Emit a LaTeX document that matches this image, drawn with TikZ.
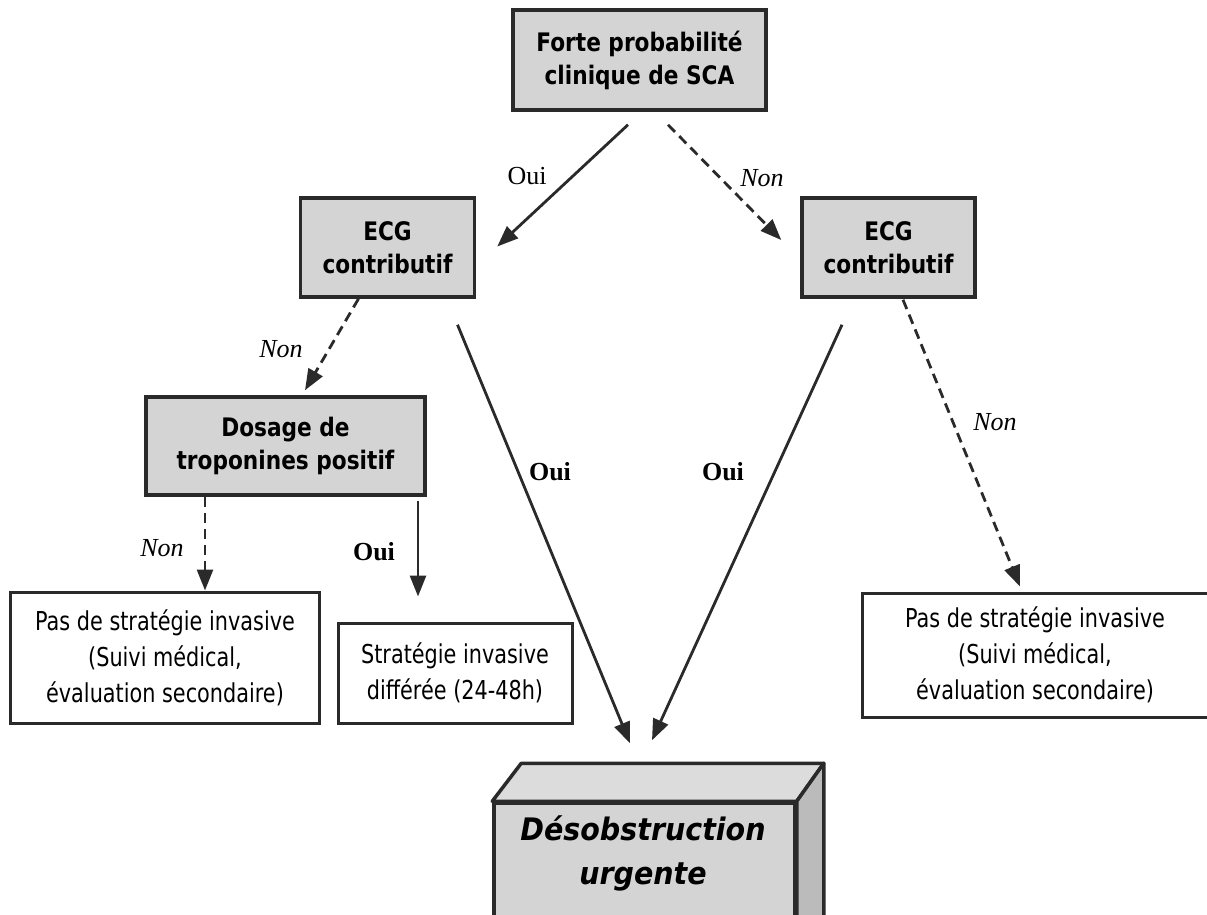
\documentclass[tikz,border=0pt]{standalone}
\usepackage{fontspec}
\usetikzlibrary{arrows.meta,calc}

% Box lettering: a narrow sans, bold in the grey boxes
\newfontfamily\boxfont[FakeStretch=0.85]{DejaVu Sans}
\newfontfamily\notefont[FakeStretch=0.8]{DejaVu Sans}
\newfontfamily\bigfont[FakeStretch=0.92]{DejaVu Sans}
\newfontfamily\labelfont{Liberation Serif}

\definecolor{boxgray}{HTML}{D4D4D4}
\definecolor{topgray}{HTML}{DCDCDC}
\definecolor{sidegray}{HTML}{BBBBBB}
\definecolor{edge}{HTML}{2A2A2A}

\tikzset{
  greybox/.style={draw=edge, line width=3.5pt, fill=boxgray, align=center,
    inner sep=0pt, font=\boxfont\bfseries\fontsize{25.5}{33}\selectfont},
  notebox/.style={draw=edge, line width=3pt, fill=white, align=center,
    inner sep=0pt, font=\notefont\fontsize{26}{36}\selectfont},
  yeslab/.style={font=\labelfont\fontsize{26}{28}\selectfont},
  yesbold/.style={font=\labelfont\bfseries\fontsize{26}{28}\selectfont},
  nolab/.style={font=\labelfont\itshape\fontsize{26}{28}\selectfont},
  arr/.style={draw=edge, line width=2.8pt, -{Triangle[length=21pt,width=16pt]}},
  dasharr/.style={arr, dash pattern=on 10pt off 6pt},
}

\begin{document}
\begin{tikzpicture}[x=1pt,y=-1pt]
\useasboundingbox (0,0) rectangle (1207,915);

% decision boxes
\node[greybox, minimum width=253pt, minimum height=100pt] (top) at (639.5,60)
  {Forte probabilité\\clinique de SCA};
\node[greybox, minimum width=174pt, minimum height=99pt] (ecgL) at (387.5,247.5)
  {ECG\\contributif};
\node[greybox, minimum width=173pt, minimum height=99pt] (ecgR) at (888.5,247.5)
  {ECG\\contributif};
\node[greybox, minimum width=279pt, minimum height=98pt] (dos) at (285.5,446)
  {Dosage de\\troponines positif};

% outcome boxes
\node[notebox, minimum width=309pt, minimum height=131pt] (pasL) at (165,657.5)
  {Pas de stratégie invasive\\(Suivi médical,\\évaluation secondaire)};
\node[notebox, minimum width=234pt, minimum height=100pt] (strat) at (455,673)
  {Stratégie invasive\\différée (24-48h)};
\node[notebox, minimum width=346pt, minimum height=124pt] (pasR) at (1035,655)
  {Pas de stratégie invasive\\(Suivi médical,\\évaluation secondaire)};

% block for the urgent outcome: front face, then top and side faces
\node[draw=edge, line width=3.5pt, fill=boxgray, minimum width=301pt,
  minimum height=118pt, inner sep=0pt] (des) at (644.5,862) {};
\filldraw[draw=edge, line width=3.5pt, fill=topgray, line join=round]
  (des.north west) -- ++(29,-38) -- ($(des.north east)+(27,-38)$)
  -- (des.north east) -- cycle;
\filldraw[draw=edge, line width=3.5pt, fill=sidegray, line join=round]
  (des.north east) -- ++(27,-38) -- ++(0,160) -- ($(des.south east)+(0,10)$) -- cycle;
\node[font=\bigfont\bfseries\itshape\fontsize{31}{44}\selectfont, align=center]
  (destext) at (643,853) {Désobstruction\\urgente};

% connectors
\draw[arr] ($(top.south)+(-11.5,13)$) -- ($(ecgL.east)+(21,-1)$);
\draw[dasharr] ($(top.south)+(28.5,13)$) -- ($(ecgR.west)+(-19,-7.5)$);
\draw[dasharr] ($(ecgL.south)+(-29,0)$) -- ($(dos.north)+(19.5,-5)$);
\draw[arr] ($(ecgL.south)+(70,26)$) -- ($(des.north)+(-14.5,-58)$);
\draw[arr] ($(ecgR.south)+(-46.5,26)$) -- ($(des.north)+(7.5,-61)$);
\draw[dasharr] ($(ecgR.south)+(14.5,1)$) -- ($(pasR.north)+(-15,-5)$);
\draw[dasharr] ($(dos.south)+(-80.5,0)$) -- ($(pasL.north)+(40,0)$);
\draw[arr] ($(dos.south)+(132.5,4)$) -- ($(strat.north)+(-37,-25)$);

% branch labels
\node[yeslab] (l1) at (527,176) {Oui};
\node[nolab] (l2) at (762,178) {Non};
\node[nolab] (l3) at (281,349) {Non};
\node[yesbold] (l4) at (550,472) {Oui};
\node[yesbold] (l5) at (723,472) {Oui};
\node[nolab] (l6) at (995,422) {Non};
\node[nolab] (l7) at (162,548) {Non};
\node[yesbold] (l8) at (374,552) {Oui};
\end{tikzpicture}
\end{document}
